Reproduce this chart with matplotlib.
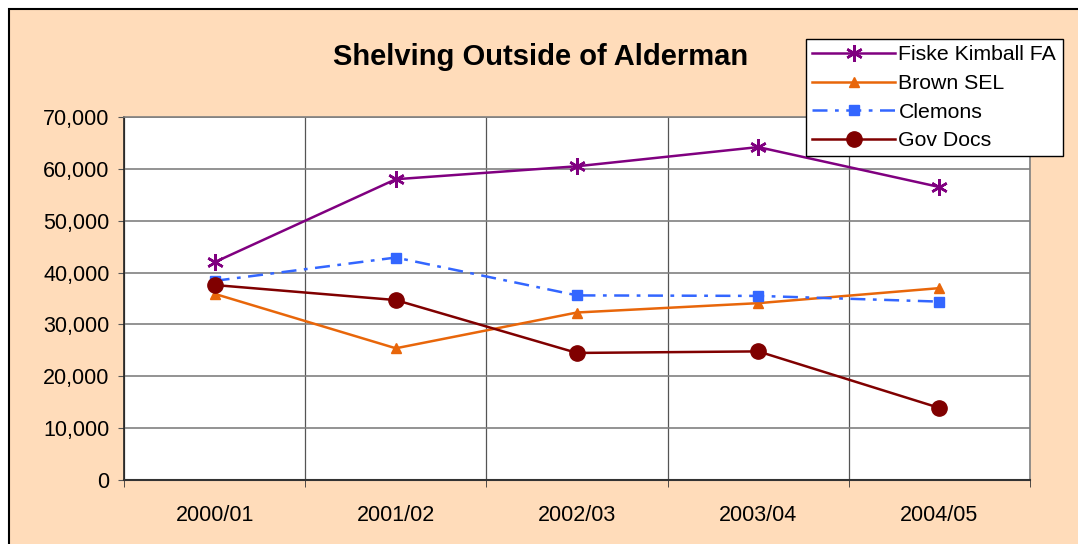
import matplotlib
matplotlib.use("Agg")
import matplotlib.pyplot as plt
from matplotlib.patches import Rectangle
from matplotlib.ticker import FuncFormatter, MultipleLocator

categories = ["2000/01", "2001/02", "2002/03", "2003/04", "2004/05"]
fiske = [42000, 58000, 60500, 64200, 56500]
brown = [35900, 25400, 32300, 34100, 37000]
clemons = [38400, 42900, 35600, 35500, 34400]
govdocs = [37600, 34700, 24500, 24800, 13900]

plt.rcParams['font.family'] = ['Liberation Sans', 'DejaVu Sans']

fig = plt.figure(figsize=(10.78, 5.44), dpi=100)
fig.patch.set_facecolor('white')
W, H = 1078, 544
bg = Rectangle((9 / W, -0.05), 1.0, 1.05 - 9 / H, transform=fig.transFigure,
               facecolor='#FFDCBA', edgecolor='black', linewidth=1.5, zorder=-10)
fig.patches.append(bg)

ax = fig.add_axes([124 / W, 1 - 480 / H, (1030 - 124) / W, (480 - 117) / H])
ax.set_facecolor('white')

x = list(range(len(categories)))
ax.plot(x, fiske, color='#800080', lw=1.8, marker=(6, 2, 0), ms=12, mew=1.8,
        label='Fiske Kimball FA', zorder=3)
ax.plot(x, brown, color='#E8660A', lw=1.8, marker='^', ms=7,
        label='Brown SEL', zorder=3)
ax.plot(x, clemons, color='#3366FF', lw=1.8, marker='s', ms=7,
        dashes=(6, 3, 1.5, 3), label='Clemons', zorder=3)
ax.plot(x, govdocs, color='#800000', lw=1.8, marker='o', ms=11,
        label='Gov Docs', zorder=3)

ax.set_xlim(-0.5, len(categories) - 0.5)
ax.set_ylim(0, 70000)
ax.yaxis.set_major_locator(MultipleLocator(10000))
ax.yaxis.set_major_formatter(FuncFormatter(lambda v, p: f"{int(v):,}"))
ax.set_xticks(x)
ax.set_xticklabels(categories)
ax.set_xticks([i - 0.5 for i in range(len(categories) + 1)], minor=True)

ax.grid(axis='y', which='major', color='#808080', lw=1.2, zorder=0)
ax.grid(axis='x', which='minor', color='#555555', lw=0.9, zorder=0)
ax.tick_params(axis='x', which='major', length=0, pad=18, labelsize=15.5)
ax.tick_params(axis='x', which='minor', length=5, direction='out', color='#333333')
ax.tick_params(axis='y', length=4.5, direction='out', color='#555555', labelsize=15.5, pad=6)

for s in ['top', 'right']:
    ax.spines[s].set_color('#808080')
    ax.spines[s].set_linewidth(1.2)
ax.spines['left'].set_color('#222222')
ax.spines['left'].set_linewidth(1.2)
ax.spines['bottom'].set_color('#333333')
ax.spines['bottom'].set_linewidth(1.5)

fig.text(541 / W, 1 - 57 / H, "Shelving Outside of Alderman", ha='center', va='center',
         fontsize=21, fontweight='bold')

leg = ax.legend(loc='upper left', bbox_to_anchor=(806 / W, 1 - 39 / H),
                bbox_transform=fig.transFigure, fontsize=15.3, frameon=True,
                fancybox=False, edgecolor='black', framealpha=1, handlelength=3.9,
                borderpad=0.3, labelspacing=0.45, handletextpad=0.15, borderaxespad=0)
leg.get_frame().set_linewidth(1.0)
leg.set_zorder(10)

fig.savefig("out.png", dpi=100)
